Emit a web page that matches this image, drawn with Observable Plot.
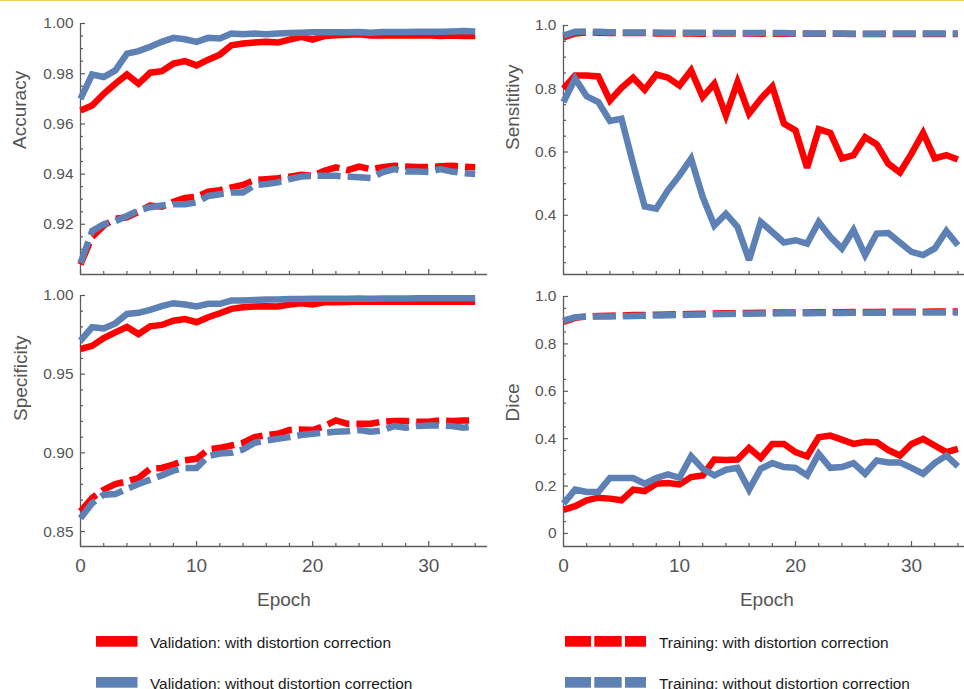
<!DOCTYPE html>
<html>
<head>
<meta charset="utf-8">
<script src="https://cdn.jsdelivr.net/npm/d3@7"></script>
<script src="https://cdn.jsdelivr.net/npm/@observablehq/plot@0.6"></script>
<style>
  html, body { margin: 0; padding: 0; background: #fff; }
  body { width: 964px; height: 689px; overflow: hidden; position: relative; font-family: "Liberation Sans", Arial, sans-serif; }
  .panel { position: absolute; width: 490px; }
  .panel svg { max-width: none !important; display: block; }
  .topline { position: absolute; left: 0; top: 0; width: 964px; height: 1px; background: #f5cd63; }
  .leg { position: absolute; font-size: 15.4px; color: #1a1a1a; white-space: nowrap; line-height: 1; }
  .sw { position: absolute; }
</style>
</head>
<body>
<div class="topline"></div>
<div id="tl" class="panel" style="left:0px;top:0px"></div>
<div id="tr" class="panel" style="left:480px;top:0px"></div>
<div id="bl" class="panel" style="left:0px;top:280px"></div>
<div id="br" class="panel" style="left:480px;top:280px"></div>
<div id="legend"></div>
<script>
// ---------------- data ----------------
const epochs = [0,1,2,3,4,5,6,7,8,9,10,11,12,13,14,15,16,17,18,19,20,21,22,23,24,25,26,27,28,29,30,31,32,33,34];

const seriesNames = [
  "Validation: with distortion correction",
  "Validation: without distortion correction",
  "Training: with distortion correction",
  "Training: without distortion correction"
];

// Accuracy
const accValWith = [0.9653,0.9673,0.9720,0.9760,0.9797,0.9760,0.9804,0.9810,0.9840,0.9850,0.9833,0.9856,0.9876,0.9913,0.9920,0.9924,0.9927,0.9924,0.9936,0.9947,0.9936,0.9950,0.9953,0.9955,0.9957,0.9952,0.9953,0.9952,0.9953,0.9952,0.9953,0.9950,0.9952,0.9950,0.9950];
const accValWithout = [0.9700,0.9797,0.9787,0.9813,0.9880,0.9890,0.9907,0.9927,0.9943,0.9937,0.9927,0.9943,0.9940,0.9960,0.9957,0.9960,0.9957,0.9960,0.9962,0.9963,0.9965,0.9965,0.9965,0.9965,0.9966,0.9963,0.9966,0.9966,0.9966,0.9967,0.9967,0.9967,0.9968,0.9970,0.9968];
const accTrainWith = [0.9040,0.9150,0.9195,0.9222,0.9228,0.9250,0.9275,0.9270,0.9290,0.9305,0.9310,0.9330,0.9336,0.9347,0.9357,0.9376,0.9380,0.9384,0.9390,0.9397,0.9393,0.9413,0.9427,0.9416,0.9430,0.9420,0.9427,0.9433,0.9430,0.9428,0.9428,0.9431,0.9433,0.9430,0.9427];
const accTrainWithout = [0.9045,0.9173,0.9200,0.9213,0.9233,0.9255,0.9268,0.9275,0.9280,0.9280,0.9287,0.9313,0.9320,0.9327,0.9327,0.9356,0.9360,0.9367,0.9380,0.9390,0.9393,0.9393,0.9393,0.9390,0.9387,0.9384,0.9407,0.9420,0.9410,0.9410,0.9408,0.9420,0.9410,0.9404,0.9400];

// Sensitivity
const sensValWith = [0.800,0.842,0.842,0.839,0.763,0.803,0.835,0.797,0.845,0.835,0.810,0.858,0.774,0.816,0.716,0.821,0.721,0.768,0.807,0.690,0.668,0.550,0.672,0.660,0.580,0.590,0.647,0.624,0.563,0.535,0.595,0.660,0.580,0.590,0.576];
const sensValWithout = [0.758,0.832,0.776,0.758,0.698,0.705,0.563,0.428,0.421,0.479,0.526,0.579,0.458,0.368,0.405,0.363,0.258,0.379,0.347,0.314,0.321,0.310,0.379,0.332,0.295,0.353,0.274,0.342,0.344,0.314,0.284,0.274,0.295,0.350,0.305];
const sensTrainWith = [0.962,0.975,0.978,0.977,0.976,0.976,0.976,0.976,0.975,0.975,0.975,0.975,0.974,0.975,0.975,0.975,0.975,0.974,0.974,0.974,0.974,0.974,0.974,0.974,0.974,0.973,0.973,0.973,0.973,0.973,0.973,0.973,0.973,0.973,0.973];
const sensTrainWithout = [0.968,0.980,0.981,0.980,0.979,0.978,0.978,0.978,0.978,0.977,0.977,0.977,0.977,0.976,0.976,0.976,0.976,0.976,0.976,0.976,0.975,0.975,0.975,0.975,0.975,0.974,0.974,0.974,0.975,0.975,0.975,0.975,0.975,0.975,0.975];

// Specificity
const specValWith = [0.9660,0.9680,0.9730,0.9766,0.9800,0.9755,0.9804,0.9813,0.9840,0.9850,0.9830,0.9862,0.9887,0.9915,0.9925,0.9930,0.9932,0.9930,0.9943,0.9950,0.9943,0.9957,0.9957,0.9959,0.9962,0.9960,0.9960,0.9960,0.9960,0.9961,0.9960,0.9960,0.9960,0.9960,0.9960];
const specValWithout = [0.9713,0.9798,0.9790,0.9823,0.9883,0.9890,0.9909,0.9932,0.9951,0.9943,0.9930,0.9947,0.9947,0.9968,0.9968,0.9972,0.9974,0.9975,0.9977,0.9978,0.9979,0.9979,0.9979,0.9980,0.9981,0.9980,0.9981,0.9981,0.9981,0.9982,0.9982,0.9982,0.9983,0.9983,0.9983];
const specTrainWith = [0.8628,0.8713,0.8766,0.8802,0.8819,0.8840,0.8900,0.8904,0.8926,0.8953,0.8962,0.9021,0.9032,0.9047,0.9064,0.9100,0.9113,0.9121,0.9145,0.9149,0.9145,0.9170,0.9206,0.9185,0.9185,0.9185,0.9198,0.9202,0.9202,0.9198,0.9198,0.9206,0.9202,0.9206,0.9206];
const specTrainWithout = [0.8585,0.8680,0.8734,0.8738,0.8772,0.8802,0.8830,0.8857,0.8887,0.8904,0.8904,0.8979,0.8996,0.9000,0.9021,0.9064,0.9079,0.9089,0.9100,0.9113,0.9121,0.9128,0.9134,0.9138,0.9145,0.9134,0.9143,0.9170,0.9160,0.9170,0.9174,0.9174,0.9170,0.9160,0.9170];

// Dice
const diceValWith = [0.100,0.115,0.140,0.151,0.147,0.140,0.185,0.179,0.210,0.213,0.207,0.238,0.245,0.312,0.310,0.312,0.361,0.319,0.378,0.378,0.343,0.326,0.406,0.413,0.396,0.378,0.387,0.385,0.352,0.329,0.378,0.399,0.371,0.343,0.357];
const diceValWithout = [0.126,0.185,0.175,0.175,0.234,0.234,0.234,0.210,0.234,0.249,0.235,0.326,0.273,0.245,0.269,0.277,0.185,0.273,0.297,0.280,0.277,0.245,0.336,0.277,0.280,0.297,0.252,0.308,0.300,0.300,0.277,0.252,0.297,0.329,0.283];
const diceTrainWith = [0.893,0.910,0.916,0.918,0.919,0.920,0.922,0.922,0.923,0.924,0.925,0.926,0.927,0.928,0.929,0.930,0.930,0.931,0.932,0.932,0.933,0.933,0.934,0.934,0.934,0.935,0.935,0.935,0.936,0.936,0.936,0.936,0.937,0.937,0.937];
const diceTrainWithout = [0.898,0.913,0.915,0.916,0.916,0.917,0.918,0.919,0.920,0.921,0.922,0.923,0.924,0.925,0.926,0.927,0.927,0.928,0.928,0.929,0.929,0.929,0.930,0.930,0.930,0.931,0.931,0.931,0.932,0.932,0.932,0.932,0.932,0.932,0.932];

// Tick labels
const xMajorTicks = [0, 10, 20, 30];
const xMinorTicks = [2,4,6,8,12,14,16,18,22,24,26,28,32,34];
const accTicks = [0.92, 0.94, 0.96, 0.98, 1.00];
const accMinor = [0.905,0.91,0.915,0.925,0.93,0.935,0.945,0.95,0.955,0.965,0.97,0.975,0.985,0.99,0.995];
const sensTicks = [0.4, 0.6, 0.8, 1.0];
const sensMinor = [0.25,0.3,0.35,0.45,0.5,0.55,0.65,0.7,0.75,0.85,0.9,0.95];
const specTicks = [0.85, 0.90, 0.95, 1.00];
const specMinor = [0.86,0.87,0.88,0.89,0.91,0.92,0.93,0.94,0.96,0.97,0.98,0.99];
const diceTicks = [0, 0.2, 0.4, 0.6, 0.8, 1.0];
const diceMinor = [0.05,0.15,0.25,0.35,0.45,0.55,0.65,0.75,0.85,0.95];

// ---------------- style ----------------
const RED = "#ff0000";
const BLUE = "#5e81b5";
const AXIS = "#5c5c5c";
const LW = 6.5;
const DASH = "23,7";

function panel(el, cfg) {
  const lines = [
    {v: cfg.series[0], stroke: RED, dash: null},
    {v: cfg.series[1], stroke: BLUE, dash: null},
    {v: cfg.series[2], stroke: RED, dash: DASH},
    {v: cfg.series[3], stroke: BLUE, dash: DASH}
  ];
  const marks = [
    Plot.ruleX([0], {stroke: AXIS, strokeWidth: 1.3}),
    Plot.ruleY([cfg.yDomain[0]], {stroke: AXIS, strokeWidth: 1.3}),
    Plot.axisY(cfg.yMinor, {tickSize: -3, tickFormat: () => "", label: null, stroke: AXIS, strokeWidth: 1.2}),
    Plot.axisY(cfg.yTicks, {tickSize: -5, tickPadding: 12, tickFormat: cfg.fmt, label: null, fontSize: 15.5, fill: "#555", stroke: AXIS, strokeWidth: 1.2}),
    Plot.axisX(xMinorTicks, {tickSize: -3, tickFormat: () => "", label: null, stroke: AXIS, strokeWidth: 1.2}),
    Plot.axisX(xMajorTicks, {tickSize: -5, tickPadding: 17, tickFormat: cfg.showX ? (d => String(d)) : (() => ""), label: null, fontSize: 19, fill: "#555", stroke: AXIS, strokeWidth: 1.2}),
    ...lines.map(s => Plot.line(s.v, {x: epochs, y: s.v, stroke: s.stroke, strokeWidth: LW, strokeDasharray: s.dash, strokeLinejoin: "miter", strokeMiterlimit: 3, strokeLinecap: "butt"})),
    Plot.text([cfg.label], {frameAnchor: "left", dx: cfg.labelDx, rotate: -90, fontSize: 19, fill: "#555"})
  ];
  if (cfg.showX) marks.push(Plot.text(["Epoch"], {frameAnchor: "bottom", dy: 59, fontSize: 19, fill: "#555"}));
  const chart = Plot.plot({
    width: cfg.width, height: cfg.height,
    marginLeft: cfg.mL, marginRight: cfg.mR, marginTop: cfg.mT, marginBottom: cfg.mB,
    x: {domain: [0, 35.06], axis: null},
    y: {domain: cfg.yDomain, axis: null},
    style: {fontFamily: '"Liberation Sans", Arial, sans-serif', background: "transparent", overflow: "visible", color: AXIS, maxWidth: "none"},
    marks
  });
  chart.style.maxWidth = "none";
  chart.style.height = cfg.height + "px";
  document.getElementById(el).appendChild(chart);
}

panel("tl", {series: [accValWith, accValWithout, accTrainWith, accTrainWithout], yDomain: [0.90, 1.00], yTicks: accTicks, yMinor: accMinor, fmt: d3.format(".2f"), label: "Accuracy", labelDx: -61, showX: false, width: 490, height: 280, mL: 80, mR: 3, mT: 23, mB: 6});
panel("tr", {series: [sensValWith, sensValWithout, sensTrainWith, sensTrainWithout], yDomain: [0.2126, 1.0], yTicks: sensTicks, yMinor: sensMinor, fmt: d3.format(".1f"), label: "Sensititivy", labelDx: -50.5, showX: false, width: 490, height: 280, mL: 83, mR: 0.3, mT: 25, mB: 6});
panel("bl", {series: [specValWith, specValWithout, specTrainWith, specTrainWithout], yDomain: [0.8405, 1.0], yTicks: specTicks, yMinor: specMinor, fmt: d3.format(".2f"), label: "Specificity", labelDx: -60, showX: true, width: 490, height: 340, mL: 80, mR: 3, mT: 15, mB: 74});
panel("br", {series: [diceValWith, diceValWithout, diceTrainWith, diceTrainWithout], yDomain: [-0.055, 1.0], yTicks: diceTicks, yMinor: diceMinor, fmt: d => d === 0 ? "0" : d3.format(".1f")(d), label: "Dice", labelDx: -50.5, showX: true, width: 490, height: 340, mL: 83, mR: 0.3, mT: 16, mB: 74});

// ---------------- legend ----------------
const legendItems = [
  {name: seriesNames[0], color: RED, dashed: false, left: 96, top: 633, textLeft: 150, textTop: 634.5},
  {name: seriesNames[1], color: BLUE, dashed: false, left: 96, top: 674, textLeft: 150, textTop: 675.5},
  {name: seriesNames[2], color: RED, dashed: true, left: 565, top: 633, textLeft: 659, textTop: 634.5},
  {name: seriesNames[3], color: BLUE, dashed: true, left: 565, top: 674, textLeft: 659, textTop: 675.5}
];
const leg = document.getElementById("legend");
legendItems.forEach(it => {
  const sw = document.createElement("div");
  sw.className = "sw";
  sw.style.left = it.left + "px";
  sw.style.top = it.top + "px";
  if (!it.dashed) {
    sw.innerHTML = `<svg width="42" height="11"><rect x="0" y="0" width="41.5" height="10.7" fill="${it.color}"/></svg>`;
  } else {
    sw.innerHTML = `<svg width="82" height="11"><rect x="0" y="0" width="26" height="10.7" fill="${it.color}"/><rect x="29.3" y="0" width="27.4" height="10.7" fill="${it.color}"/><rect x="60" y="0" width="21" height="10.7" fill="${it.color}"/></svg>`;
  }
  leg.appendChild(sw);
  const tx = document.createElement("div");
  tx.className = "leg";
  tx.style.left = it.textLeft + "px";
  tx.style.top = it.textTop + "px";
  tx.textContent = it.name;
  leg.appendChild(tx);
});
</script>
</body>
</html>
